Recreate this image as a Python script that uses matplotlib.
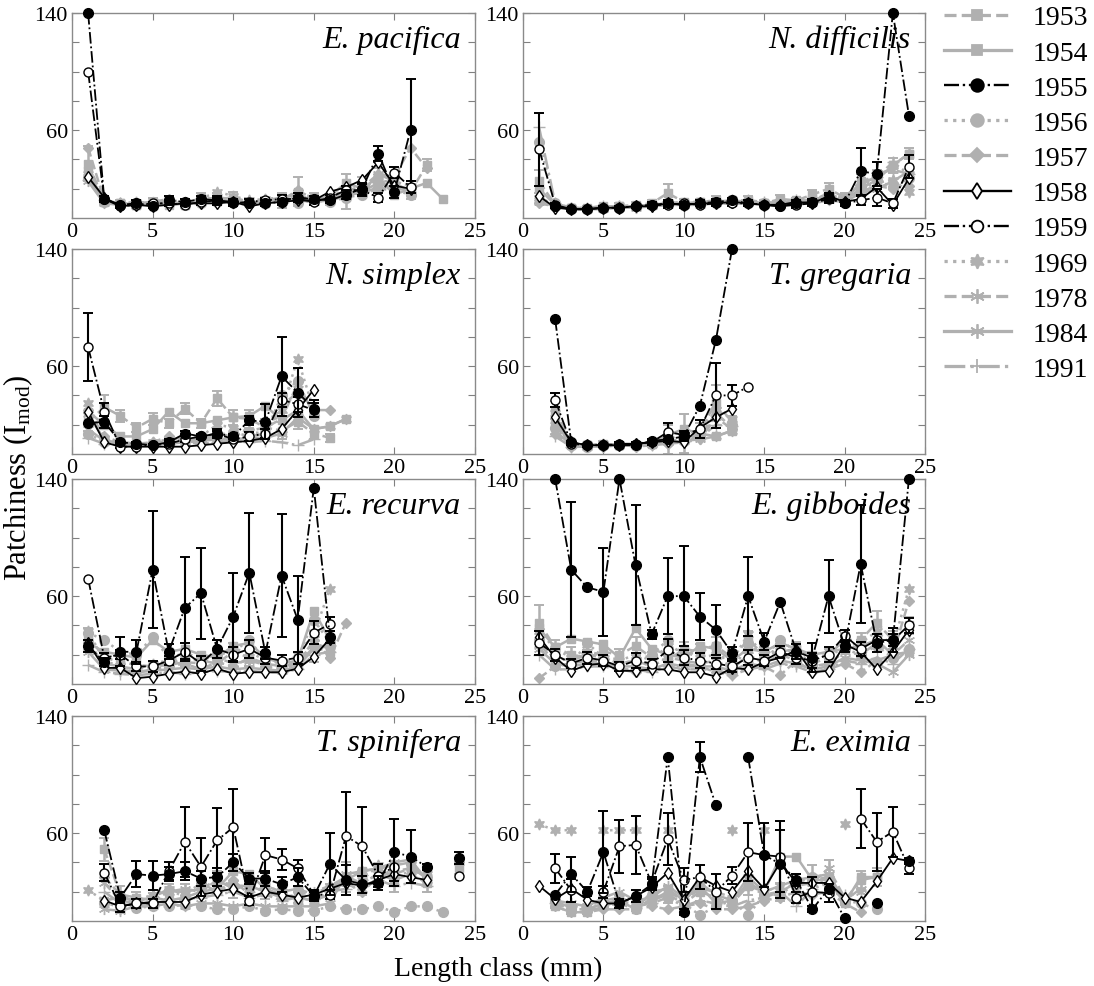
import numpy as np
import matplotlib.pyplot as plt
from matplotlib.lines import Line2D

plt.rcParams['font.family'] = 'Liberation Serif'
plt.rcParams['mathtext.fontset'] = 'custom'
plt.rcParams['mathtext.rm'] = 'Liberation Serif'
plt.rcParams['mathtext.it'] = 'Liberation Serif:italic'

years = ['1953', '1954', '1955', '1956', '1957', '1958', '1959', '1969', '1978', '1984', '1991']
species = ['E. pacifica', 'N. difficilis', 'N. simplex', 'T. gregaria',
           'E. recurva', 'E. gibboides', 'T. spinifera', 'E. eximia']

# values by length class 1, 2, 3 ... (None = no data)
# E. pacifica
pac_53 = [37, 12, 10, 9, 11, 10, 9, 14, 13, 14, 11, 10, 12, 18, 14, 12, 18, 22, 26, 24, 18, 36]
pac_54 = [32, 11, 10, 9, 10, 9, 10, 11, 12, 11, 10, 11, 12, 13, 12, 15, 24, 20, 28, 16, 20, 24, 13]
pac_55 = [140, 13, 9, 10, 8, 12, 11, 13, 12, 11, 10, 10, 11, 14, 13, 12, 16, 20, 44, 18, 60]
pac_56 = [27, 11, 9, 10, 11, 10, 9, 10, 11, 12, 10, 11, 11, 10, 12, 11, 14, 16, 20, 19, 16]
pac_57 = [48, 12, 10, 9, 11, 13, 10, 12, 14, 13, 11, 10, 12, 19, 13, 12, 22, 17, 30, 28, 48, 34]
pac_58 = [28, 14, 8, 9, 8, 9, 10, 10, 10, 11, 8, 10, 11, 12, 12, 18, 21, 26, 38, 22, 20]
pac_59 = [100, 13, 8, 9, 10, 10, 9, 11, 12, 10, 11, 12, 13, 13, 11, 14, 19, 19, 14, 31, 21]
pac_69 = [28, 12, 10, 11, 10, 12, 11, 13, 18, 15, 12, 13, 14, 15, 13, 14, 16, 18, 25, 20]
pac_78 = [30, 11, 10, 9, 10, 11, 10, 12, 13, 12, 11, 12, 14, 16, 12, 13, 19, 21, 30, 25, 22]
pac_84 = [25, 10, 9, 10, 11, 10, 10, 11, 12, 11, 10, 10, 13, 12, 11, 12, 15, 18, 24, 20, 19]
pac_91 = [26, 12, 10, 9, 10, 11, 10, 11, 12, 10, 11, 12, 13, 12, 12, 13, 16, 17, 21, 20]
pac_55_err = [0, 2, 1, 2, 1, 3, 2, 2, 2, 2, 1, 2, 2, 3, 2, 2, 3, 4, 5, 4, 35]
pac_59_err = [0, 2, 1, 1, 1, 2, 1, 2, 3, 2, 2, 2, 3, 2, 2, 2, 3, 4, 3, 4, 4]
pac_53_err = [12, 2, 2, 2, 3, 2, 2, 3, 4, 4, 3, 2, 5, 10, 3, 3, 12, 6, 8, 5, 5, 4]

# N. difficilis
dif_53 = [25, 9, 7, 7, 8, 8, 9, 10, 17, 11, 11, 12, 11, 12, 10, 13, 12, 16, 20, 14, 25, 27, 36, 44]
dif_54 = [20, 9, 7, 6, 7, 8, 8, 9, 10, 10, 11, 11, 12, 11, 10, 11, 11, 13, 14, 12, 20, 26, 36, 44]
dif_55 = [None, 8, 6, 6, 7, 7, 8, 9, 10, 9, 10, 11, 12, 10, 9, 8, 10, 11, 14, 10, 32, 30, 140, 70]
dif_56 = [52, 10, 7, 6, 7, 7, 8, 9, 10, 9, 10, 10, 11, 11, 10, 9, 10, 11, 15, 12, 22, 26, 21, 27]
dif_57 = [10, 8, 6, 6, 7, 7, 8, 8, 9, 9, 9, 10, 10, 10, 9, 9, 10, 10, 13, 11, 18, 22, 20, 22]
dif_58 = [15, 7, 6, 6, 7, 7, 8, 8, 10, 9, 10, 10, 11, 10, 9, 9, 11, 10, 15, 11, 13, 21, 9, 27]
dif_59 = [47, 9, 6, 6, 7, 7, 8, 9, 9, 10, 9, 10, 10, 10, 9, 8, 9, 10, 13, 10, 12, 14, 10, 35]
dif_69 = [14, 9, 7, 6, 7, 8, 8, 9, 11, 10, 10, 10, 12, 11, 10, 10, 10, 11, 14, 12, 20, 24, 26, 18]
dif_78 = [12, 8, 7, 6, 7, 7, 8, 9, 10, 9, 10, 11, 11, 11, 10, 10, 11, 12, 16, 13, 24, 30, 33, 30]
dif_84 = [11, 8, 6, 6, 6, 7, 7, 8, 9, 9, 9, 10, 10, 10, 9, 9, 10, 10, 12, 11, 17, 20, 25, 32]
dif_91 = [62, 10, 7, 7, 8, 8, 8, 9, 11, 10, 10, 11, 12, 12, 11, 10, 12, 12, 17, 13, 23, 28, 38, 30]
dif_55_err = [0, 1, 1, 1, 1, 1, 1, 2, 2, 2, 2, 2, 2, 2, 1, 1, 2, 2, 3, 2, 16, 8, 0, 0]
dif_59_err = [25, 1, 1, 1, 1, 1, 1, 1, 2, 1, 1, 2, 2, 2, 1, 1, 2, 2, 3, 2, 3, 6, 3, 8]
dif_53_err = [8, 2, 1, 1, 1, 2, 2, 2, 6, 2, 2, 3, 2, 3, 2, 3, 2, 3, 4, 3, 5, 6, 5, 4]

# N. simplex
sim_53 = [22, 32, 26, 18, 24, 21, 31, 21, 38, 25, 24, 18, 16, 22, 14, 11]
sim_54 = [29, 20, 12, 12, 17, 29, 21, 21, 23, 25, 26, 33, 23, 30, 17, 19, 24]
sim_55 = [21, 22, 8, 7, 6, 8, 14, 12, 14, 12, 23, 22, 53, 42, 31]
sim_56 = [14, 8, 7, 6, 7, 10, 9, 8, 11, 10, 12, 14, 40, 50, 26]
sim_57 = [30, 12, 8, 7, 8, 12, 10, 9, 13, 15, 12, 14, 33, 42, 30, 30]
sim_58 = [29, 8, 5, 5, 5, 5, 5, 6, 7, 8, 9, 11, 17, 30, 44]
sim_59 = [73, 29, 5, 5, 6, 7, 10, 12, 14, 10, 12, 14, 37, 34, 30]
sim_69 = [35, 9, 7, 6, 8, 10, 11, 12, 20, 18, 15, 14, 30, 65, 30]
sim_78 = [27, 10, 7, 6, 7, 9, 10, 10, 14, 12, 16, 18, 24, 48, 28]
sim_84 = [17, 9, 8, 7, 7, 8, 8, 9, 10, 10, 11, 11, 14, 25, 17, 19, 24]
sim_91 = [11, 7, 6, 6, 6, 7, 8, 7, 8, 9, 8, 9, 8, 6, 10]
sim_55_err = [0, 4, 1, 1, 1, 2, 2, 2, 2, 2, 3, 12, 27, 17, 6]
sim_59_err = [23, 6, 1, 1, 1, 2, 2, 2, 3, 2, 3, 3, 5, 5, 5]
sim_53_err = [6, 8, 4, 3, 4, 3, 4, 3, 5, 5, 6, 6, 6, 5, 4, 3]

# T. gregaria
gre_53 = [None, 30, 7, 6, 7, 6, 6, 8, 10, 14, 16, 35, 22]
gre_54 = [None, 22, 6, 6, 6, 6, 6, 7, 13, 17, 14, 12, 16]
gre_55 = [None, 92, 8, 6, 6, 6, 6, 9, 10, 12, 33, 78, 140]
gre_56 = [None, 18, 6, 5, 6, 6, 6, 7, 8, 9, 12, 26, 20]
gre_57 = [None, 14, 5, 5, 5, 6, 5, 6, 7, 8, 10, 25, 17]
gre_58 = [None, 25, 8, 6, 6, 6, 7, 8, 9, 8, 18, 25, 31]
gre_59 = [None, 37, 7, 6, 6, 7, 7, 8, 15, 13, 17, 40, 40, 46]
gre_69 = [None, 28, 6, 6, 7, 6, 7, 8, 9, 10, 15, 30, 24]
gre_78 = [None, 20, 7, 6, 6, 7, 6, 7, 9, 11, 12, 28, 18]
gre_84 = [None, 16, 6, 5, 6, 6, 6, 7, 8, 9, 10, 12, 16]
gre_91 = [None, 12, 5, 6, 6, 6, 6, 6, 8, 9, 11, 20, 19]
gre_55_err = [0, 0, 1, 1, 1, 1, 1, 1, 2, 3, 0, 0, 0]
gre_59_err = [0, 5, 1, 1, 1, 1, 1, 2, 6, 3, 6, 22, 7, 0]
gre_53_err = [0, 6, 1, 1, 2, 1, 1, 2, 10, 13, 5, 12, 4]

# E. recurva
rec_53 = [33, 18, 15, 13, 12, 14, 17, 16, 14, 22, 18, 14, 12, 14, 25, 22]
rec_54 = [28, 22, 20, 18, 30, 22, 24, 20, 18, 26, 28, 18, 14, 16, 50, 30]
rec_55 = [26, 15, 22, 22, 78, 22, 52, 62, 24, 46, 76, 21, 74, 44, 134, 32]
rec_56 = [35, 30, 22, 20, 32, 18, 21, 18, 20, 22, 30, 16, 15, 17, 44, 28]
rec_57 = [30, 12, 10, 8, 10, 12, 14, 10, 15, 12, 18, 12, 10, 14, 30, 18, 42]
rec_58 = [28, 11, 11, 4, 5, 7, 8.5, 7, 10.5, 7, 8, 8, 8, 10.5, 18.5, 31]
rec_59 = [72, 18, 20, 12, 12, 16, 22, 14, 24, 20, 24, 18, 16, 18, 35, 41]
rec_69 = [36, 16, 12, 10, 14, 16, 18, 16, 20, 24, 22, 16, 14, 20, 34, 65]
rec_78 = [25, 14, 12, 10, 12, 13, 15, 14, 18, 14, 16, 13, 12, 15, 28, 24]
rec_84 = [22, 10, 9, 8, 9, 10, 11, 10, 12, 10, 11, 10, 9, 12, 24, 26]
rec_91 = [13, 8, 7, 6, 7, 8, 7, 8, 9, 8, 9, 8, 8, 10, 20, 22]
rec_55_err = [4, 3, 10, 8, 40, 5, 35, 31, 6, 30, 41, 4, 42, 30, 0, 4]
rec_59_err = [0, 3, 3, 3, 4, 3, 6, 5, 6, 5, 6, 4, 4, 4, 8, 5]
rec_53_err = [5, 4, 4, 3, 4, 3, 5, 4, 4, 6, 6, 3, 3, 4, 10, 4]

# E. gibboides
gib_53 = [42, 25, 20, 18, 22, 20, 26, 18, 16, 24, 22, 26, 18, 30, 20, 22, 24, 18, 20, 30, 30, 42, 30, 40]
gib_54 = [38, 25, 31, 29, 27, 18, 38, 24, 20, 18, 26, 24, 16, 24, 22, 28, 24, 20, 22, 24, 26, 30, 20, 22]
gib_55 = [None, 140, 78, 66, 63, 140, 81, 34, 60, 60, 46, 37, 21, 60, 29, 56, 22, 18, 60, 26, 82, 28, 30, 140]
gib_56 = [30, 12, 14, 28, 18, 14, 16, 20, 30, 18, 24, 26, 8, 28, 18, 30, 22, 14, 12, 24, 20, 26, 18, 24]
gib_57 = [4, 12, 14, 16, 15, 10, 8, 12, 10, 14, 12, 8, 6, 10, 12, 6, 16, 8, 10, 14, 8, 16, 20, 57]
gib_58 = [32, 18, 9, 13, 14, 9, 9, 10, 10, 8, 8, 5, 11, 10, 15, 18, 23, 8, 9, 27, 22, 10, 22, 37]
gib_59 = [28, 20, 14, 18, 16, 12, 16, 14, 23, 18, 16, 14, 12, 18, 16, 22, 18, 16, 20, 33, 24, 30, 30, 40]
gib_69 = [36, 24, 18, 22, 20, 16, 20, 16, 26, 22, 18, 20, 16, 34, 18, 26, 20, 14, 18, 26, 28, 36, 26, 65]
gib_78 = [26, 18, 16, 20, 18, 14, 16, 12, 18, 16, 14, 16, 10, 20, 14, 20, 16, 12, 14, 22, 20, 28, 20, 30]
gib_84 = [24, 14, 12, 14, 14, 12, 12, 10, 14, 12, 12, 12, 9, 14, 12, 16, 14, 10, 12, 18, 16, 14, 8, 20]
gib_91 = [20, 10, 10, 12, 12, 10, 10, 8, 12, 10, 10, 10, 6, 12, 10, 14, 12, 8, 10, 16, 14, 18, 14, 24]
gib_55_err = [0, 0, 46, 0, 30, 0, 41, 3, 26, 34, 16, 17, 4, 27, 6, 0, 5, 10, 25, 4, 40, 6, 8, 0]
gib_59_err = [8, 4, 3, 4, 4, 3, 5, 3, 8, 5, 5, 4, 4, 5, 4, 4, 4, 5, 5, 4, 5, 4, 4, 5]
gib_53_err = [12, 5, 5, 5, 5, 4, 6, 4, 4, 5, 5, 6, 5, 6, 5, 5, 5, 4, 4, 5, 5, 8, 6, 6]

# T. spinifera
spi_53 = [None, 49, 18, 16, 14, 20, 20, 22, 28, 24, 24, 20, 18, 16, 14, 20, 30, 26, 32, 28, 32, 26, None, 36]
spi_54 = [None, 14, 16, 14, 16, 14, 16, 20, 22, 34, 32, 22, 18, 16, 14, 18, 28, 34, 36, 38, 40, 28]
spi_55 = [None, 62, 16, 32, 31, 32, 34, 29, 30, 40, 29, 29, 25, 30, 17, 39, 28, 25, 26, 47, 44, 37, None, 43]
spi_56 = [None, 12, 10, 9, 10, 10, 11, 10, 8, 8, 10, 7, 8, 7, 7, 10, 8, 8, 10, 6, 10, 10, 6]
spi_57 = [None, 30, 18, 12, 16, 22, 18, 26, 20, 28, 18, 24, 20, 22, 18, 24, 26, 20, 30, 34, 36, 30, None, 40]
spi_58 = [None, 14, 10, 12, 13, 13, 13, 18, 20, 22, 16, 20, 18, 16, 18, 22, 26, 24, 28, 32, 30, 28]
spi_59 = [None, 33, 10, 12, 12, 34, 54, 37, 55, 64, 14, 45, 42, 36, 18, 18, 58, 51, 31, 37, None, None, None, 31]
spi_69 = [21, 14, 8, 14, 18, 22, 16, 24, 20, 26, 22, 24, 20, 22, 18, 24, 26, 28, 38, 30, 34, 32, None, 40]
spi_78 = [None, 26, 14, 12, 18, 20, 22, 20, 28, 22, 24, 20, 16, 18, 20, 24, 30, 26, 32, 32, 36, 30]
spi_84 = [None, 8, 7, 10, 10, 12, 10, 12, 12, 10, 12, 10, 10, 10, 10, 12, 32, 34, 36, 40, 42, 28]
spi_91 = [None, 20, 12, 10, 12, 14, 15, 16, 18, 20, 16, 18, 14, 16, 15, 20, 22, 24, 28, 24, 26, 24]
spi_55_err = [0, 0, 4, 9, 10, 5, 6, 5, 6, 6, 4, 5, 5, 6, 3, 21, 10, 6, 5, 23, 18, 2, 0, 4]
spi_59_err = [0, 6, 4, 3, 3, 6, 24, 20, 22, 26, 3, 12, 7, 6, 3, 3, 30, 27, 8, 10, 0, 0, 0, 0]
spi_53_err = [0, 8, 6, 4, 5, 5, 5, 6, 6, 8, 6, 5, 4, 4, 4, 5, 10, 8, 6, 8, 6, 6, 0, 4]

# E. eximia
exi_53 = [None, 12, 8, 8, 12, 14, 10, 14, 18, 12, 20, 16, 12, 24, 18, 20, 26, 28, 30, 14, 28, 30]
exi_54 = [None, 10, 6, 6, 10, 14, 8, 20, 22, 14, 24, 12, 14, 26, 20, 44, 44, 28, 28, 12, 30, 30]
exi_55 = [None, 18, 32, 20, 47, 12, 17, 25, 112, 6, 112, 79, None, 112, 45, 39, 28, 8, 22, 2, None, 12, None, 41]
exi_56 = [None, 14, 8, 8, 10, 12, 8, 18, 16, 12, 4, 10, 14, 4, 18, 18, 26, 30, 24, 14, 12, 8]
exi_57 = [None, 10, 6, 6, 8, 8, 8, 10, 8, 10, 12, 8, 8, 10, 14, 16, 20, 18, 20, 12, 6]
exi_58 = [24, 15, 22, 14.5, 12, 12, 17, 23, 33, 14.5, 30, 24, 20, 34, 22, 40, 26, 26, 26, 16, 13, 27, 43, 41]
exi_59 = [None, 36, 21, None, 20, 51, 52, 26, 56, 28, 30, 20, 31, 47, 45, 44, 16, 20, 19, None, 70, 54, 61, 36]
exi_69 = [66, 62, 62, None, 62, 62, 62, None, 62, None, None, None, 62, None, 62, None, None, None, None, 66]
exi_78 = [None, 12, 10, 10, 14, 16, 12, 14, 20, 14, 22, 20, 16, 24, 20, 24, 24, 26, 36, 16, 20]
exi_84 = [None, 14, 12, 10, 16, 20, 14, 16, 24, 16, 26, 18, 14, 30, 20, 24, 28, 30, 32, 14, 22]
exi_91 = [None, 12, 10, 8, 12, 14, 10, 12, 16, 10, 14, 12, 10, 14, 16, 20, 10, 22, 26, 18]
exi_55_err = [0, 0, 12, 3, 28, 3, 4, 4, 0, 2, 10, 0, 0, 0, 0, 23, 4, 2, 3, 0, 0, 0, 0, 2]
exi_59_err = [0, 10, 8, 0, 4, 18, 20, 4, 18, 8, 8, 12, 6, 20, 22, 24, 4, 10, 6, 0, 20, 20, 17, 4]
exi_53_err = [0, 3, 3, 3, 4, 4, 3, 4, 6, 4, 6, 4, 4, 6, 4, 6, 6, 10, 12, 3, 6, 6]

panels = [
    [pac_53, pac_54, pac_55, pac_56, pac_57, pac_58, pac_59, pac_69, pac_78, pac_84, pac_91],
    [dif_53, dif_54, dif_55, dif_56, dif_57, dif_58, dif_59, dif_69, dif_78, dif_84, dif_91],
    [sim_53, sim_54, sim_55, sim_56, sim_57, sim_58, sim_59, sim_69, sim_78, sim_84, sim_91],
    [gre_53, gre_54, gre_55, gre_56, gre_57, gre_58, gre_59, gre_69, gre_78, gre_84, gre_91],
    [rec_53, rec_54, rec_55, rec_56, rec_57, rec_58, rec_59, rec_69, rec_78, rec_84, rec_91],
    [gib_53, gib_54, gib_55, gib_56, gib_57, gib_58, gib_59, gib_69, gib_78, gib_84, gib_91],
    [spi_53, spi_54, spi_55, spi_56, spi_57, spi_58, spi_59, spi_69, spi_78, spi_84, spi_91],
    [exi_53, exi_54, exi_55, exi_56, exi_57, exi_58, exi_59, exi_69, exi_78, exi_84, exi_91],
]
# error bars: {series index: errors}
panel_errs = [
    {0: pac_53_err, 2: pac_55_err, 6: pac_59_err},
    {0: dif_53_err, 2: dif_55_err, 6: dif_59_err},
    {0: sim_53_err, 2: sim_55_err, 6: sim_59_err},
    {0: gre_53_err, 2: gre_55_err, 6: gre_59_err},
    {0: rec_53_err, 2: rec_55_err, 6: rec_59_err},
    {0: gib_53_err, 2: gib_55_err, 6: gib_59_err},
    {0: spi_53_err, 2: spi_55_err, 6: spi_59_err},
    {0: exi_53_err, 2: exi_55_err, 6: exi_59_err},
]

GRAY = '#b0b0b0'
# colour, linestyle, marker, marker face, marker size
styles = [
    (GRAY, '--', 's', GRAY, 6),
    (GRAY, '-', 's', GRAY, 6),
    ('k', '-.', 'o', 'k', 7),
    (GRAY, ':', 'o', GRAY, 7),
    (GRAY, '--', 'D', GRAY, 5.5),
    ('k', '-', 'd', 'white', 6.5),
    ('k', '-.', 'o', 'white', 6.5),
    (GRAY, ':', (6, 1, 0), GRAY, 8),
    (GRAY, '--', (6, 2, 0), GRAY, 8),
    (GRAY, '-', (6, 2, 0), GRAY, 8),
    (GRAY, '-.', '+', GRAY, 8),
]
draw_order = [0, 1, 3, 4, 7, 8, 9, 10, 5, 6, 2]

W, H = 1094, 987
fig = plt.figure(figsize=(W / 100, H / 100), dpi=100)

cols = [(72, 475), (523, 925)]
rows = [(14, 219), (250, 455), (480, 685), (717, 922)]


def line_kw(st, scale=1.0):
    c, ls, mk, mfc, ms = st
    lw = 1.3 if c == 'k' else 1.8
    return dict(color=c, ls=ls, marker=mk, mfc=mfc, mec=c, ms=ms * scale,
                lw=lw * scale, mew=1.0 * scale)


for i, name in enumerate(species):
    x0, x1 = cols[i % 2]
    t, b = rows[i // 2]
    ax = fig.add_axes([x0 / W, 1 - b / H, (x1 - x0) / W, (b - t) / H])
    for k in draw_order:
        y = np.array(panels[i][k], dtype=float)
        x = np.arange(1, len(y) + 1)
        st = styles[k]
        z = 3 if st[0] == 'k' else 2
        if k in panel_errs[i]:
            e = np.array(panel_errs[i][k][:len(y)], dtype=float)
            m = (e > 0) & ~np.isnan(y)
            ax.errorbar(x[m], y[m], yerr=e[m], fmt='none', ecolor=st[0],
                        elinewidth=1.5 if st[0] == 'k' else 1.8, capsize=3.5, capthick=1.4,
                        zorder=z, clip_on=False)
        ax.plot(x, y, zorder=z, clip_on=False, **line_kw(st))
    ax.set_xlim(0, 25)
    ax.set_ylim(0, 140)
    ax.set_xticks([0, 5, 10, 15, 20, 25])
    ax.set_yticks([20, 40, 60, 80, 100, 120, 140])
    ax.set_yticklabels(['', '', '60', '', '', '', '140'])
    ax.tick_params(direction='in', top=True, right=True, length=5, width=0.8,
                   color='#808080', labelsize=16, pad=3)
    for sp in ax.spines.values():
        sp.set_color('#8a8a8a')
        sp.set_linewidth(1.0)
    ax.text(0.965, 0.87, name, transform=ax.transAxes, ha='right', va='center',
            fontsize=23, style='italic', zorder=1)

handles = [Line2D([], [], **line_kw(st, 1.3)) for st in styles]
fig.legend(handles, years, loc='upper left', bbox_to_anchor=(944 / W, 1 - 6 / H),
           frameon=False, fontsize=20, handlelength=2.4, handletextpad=0.8,
           labelspacing=0.35, borderaxespad=0, borderpad=0)

fig.text(18 / W, 1 - 478 / H, 'Patchiness (I$_{\\mathrm{mod}}$)', rotation=90,
         ha='center', va='center', fontsize=22)
fig.text(498 / W, 1 - 969 / H, 'Length class (mm)', ha='center', va='center', fontsize=20)

fig.savefig('out.png', dpi=100)
